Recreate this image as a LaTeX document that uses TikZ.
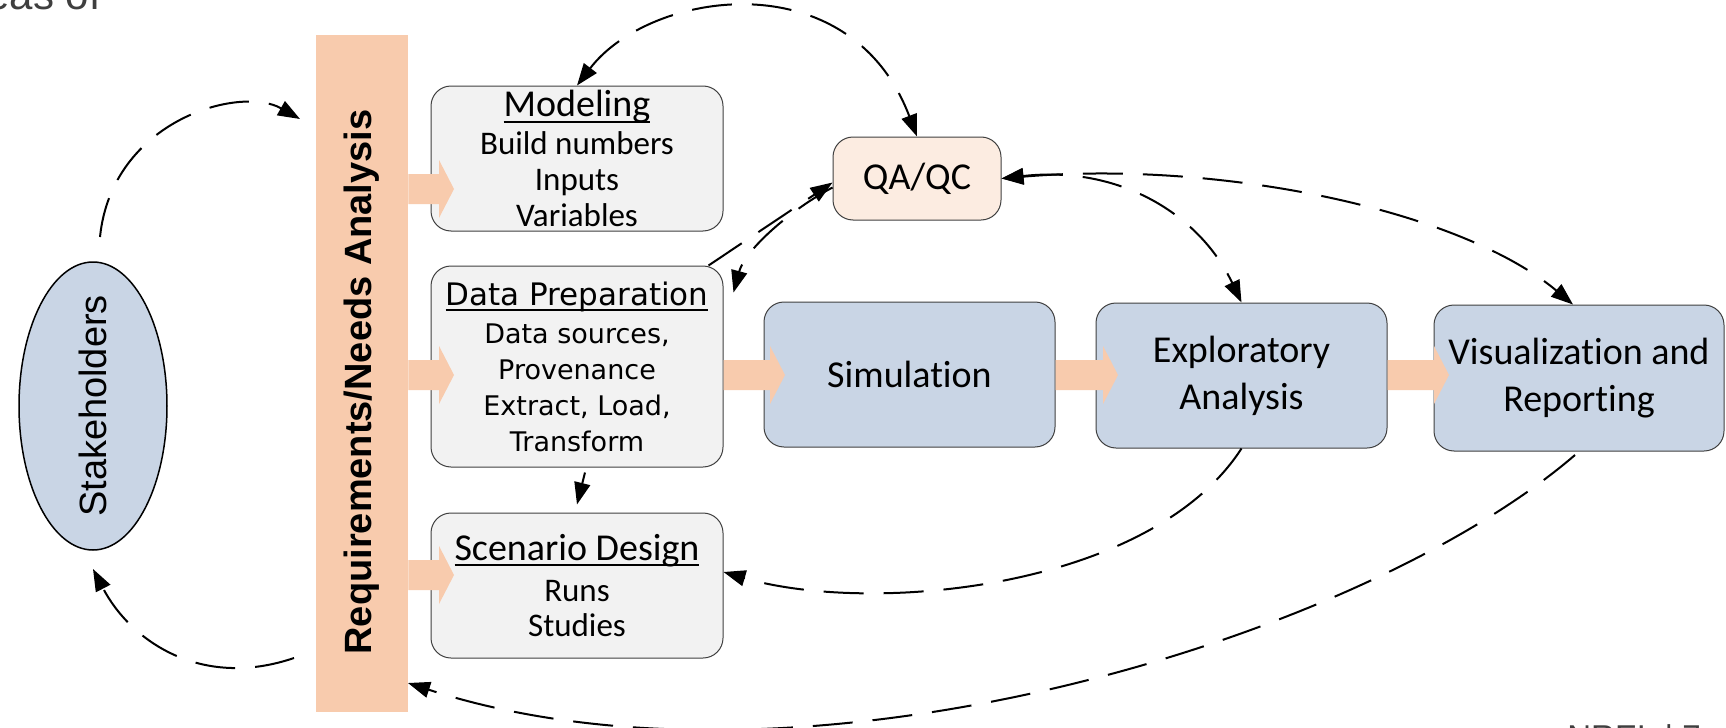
\documentclass[tikz,border=0pt]{standalone}
\usepackage{fontspec}
\usepackage{graphicx}
\usetikzlibrary{arrows.meta,shapes.geometric,calc}
\setmainfont{Carlito}[Ligatures=CommonOff]
\newfontfamily\arialf{Liberation Sans}
\newfontfamily\dejav{DejaVu Sans}
\definecolor{peach}{HTML}{F8CBAD}
\definecolor{bluebox}{HTML}{C9D5E5}
\definecolor{graybox}{HTML}{F2F2F2}
\definecolor{qafill}{HTML}{FCECE1}
\definecolor{edge}{HTML}{404040}
\definecolor{fraggray}{HTML}{3F3F3F}
\newcommand\ulin[1]{\setbox0\hbox{#1}\rlap{\rule[-3pt]{\wd0}{1pt}}\box0}
\newcommand\blockarrow[2]{%
  \fill[peach] let \p1=(#1), \p2=(#2) in
  (\x1,\y2+7.5pt) -- (\x2-7.5pt,\y2+7.5pt) -- (\x2-7.5pt,\y2+14.5pt) -- (\x2,\y2)
  -- (\x2-7.5pt,\y2-14.5pt) -- (\x2-7.5pt,\y2-7.5pt) -- (\x1,\y2-7.5pt) -- cycle;}
\tikzset{
  gbox/.style={draw=edge, line width=0.5pt, fill=graybox, rounded corners=10pt,
    inner sep=0pt, align=center, minimum width=146pt},
  bbox/.style={draw=edge, line width=0.5pt, fill=bluebox, rounded corners=10pt,
    inner sep=0pt, align=center, font=\fontsize{19}{23.5}\selectfont},
  dl/.style={line width=1pt, dash pattern=on 20pt off 10pt},
  >={Triangle[length=11pt,width=8pt]},
}
\begin{document}
\begin{tikzpicture}[x=0.5pt,y=-0.5pt]
\useasboundingbox (0,0) rectangle (1726,728);
\fill[white] (0,0) rectangle (1726,728);

% cropped slide fragments
\node[anchor=base west, text=fraggray, font=\arialf\fontsize{21}{25}\selectfont, inner sep=0pt] (frag1) at (-14,10) {eas of};
\node[anchor=base west, text=fraggray, font=\arialf\fontsize{16.5}{20}\selectfont, inner sep=0pt] (frag2) at (1567,748) {NREL | 7};

% main shapes
\node[ellipse, draw=black, line width=0.75pt, fill=bluebox, minimum width=74pt, minimum height=144pt, inner sep=0pt] (stake) at (93,406)
  {\rotatebox{90}{\makebox[0pt]{\arialf\fontsize{19}{23}\selectfont Stakeholders}}};
\node[fill=peach, minimum width=46pt, minimum height=338.5pt, inner sep=0pt] (req) at (362,373.5)
  {\rotatebox{90}{\arialf\bfseries\fontsize{19}{23}\selectfont Requirements/Needs Analysis\hspace{8.5pt}}};

\node[gbox, minimum height=72.5pt, font=\fontsize{16.5}{18}\selectfont] (mod) at (577,158.5)
  {{\fontsize{19}{18}\selectfont\ulin{Modeling}}\\[1pt] Build numbers\\ Inputs\\ Variables};
\node[gbox, minimum height=100.5pt, font=\dejav\fontsize{13.5}{18}\selectfont] (prep) at (577,366.5)
  {{\fontsize{15.5}{18}\selectfont\ulin{Data Preparation}}\\[1pt] Data sources,\\ Provenance\\ Extract, Load,\\ Transform};
\node[gbox, minimum height=72.5pt, font=\fontsize{16.5}{17.5}\selectfont] (scen) at (577,585.5)
  {{\fontsize{19}{18}\selectfont\ulin{Scenario Design}}\\[3pt] Runs\\ Studies};
\node[draw=edge, line width=0.5pt, fill=qafill, rounded corners=10pt, minimum width=84pt, minimum height=41.5pt,
  inner sep=0pt, font=\fontsize{19}{23}\selectfont] (qa) at (917,178.5) {QA/QC};
\node[bbox, minimum width=145.5pt, minimum height=72.5pt] (sim) at (909.5,374.5) {Simulation};
\node[bbox, minimum width=145.5pt, minimum height=72.5pt] (expl) at (1241.5,375.5) {Exploratory\\Analysis};
\node[bbox, minimum width=145pt, minimum height=73pt] (viz) at (1579,378) {Visualization and\\Reporting};

% block arrows
\coordinate (t1) at (454,189);
\coordinate (t2) at (454,375);
\coordinate (t3) at (454,575);
\coordinate (t4) at (785,375);
\coordinate (t5) at (1118,375);
\coordinate (t6) at (1449,375);
\blockarrow{req.east}{t1}
\blockarrow{req.east}{t2}
\blockarrow{req.east}{t3}
\blockarrow{prep.east}{t4}
\blockarrow{sim.east}{t5}
\blockarrow{expl.east}{t6}

% dashed connectors
\coordinate (p1s) at (100,237);
\coordinate (p1e) at (300,119);
\draw[dl,->] (p1s) .. controls (112,120) and (240,85) .. (p1e);
\coordinate (p2s) at (294,658);
\coordinate (p2e) at (93,569);
\draw[dl,->] (p2s) .. controls (200,690) and (130,640) .. (p2e);
\coordinate (p3s) at (1575,455);
\coordinate (p3e) at (408,683);
\draw[dl,->] (p3s) .. controls (1360,640) and (800,810) .. (p3e);
\draw[dl,->] (expl.south) .. controls (1150,590) and (870,615) .. ([yshift=6.75pt]scen.east);
\draw[dl,->] ([xshift=4pt,yshift=-2.5pt]prep.south) -- ([yshift=4pt]scen.north);
\draw[dl,<->] (mod.north) .. controls (650,-10) and (850,-40) .. (qa.north);
\draw[dl,->] ([xshift=-7.5pt]prep.north east) -- ([yshift=-2pt]qa.west);
\draw[dl,->] ([yshift=-4.5pt]qa.west) .. controls (790,210) and (745,250) .. ([xshift=5pt,yshift=-13.5pt]prep.north east);
\draw[dl,<->] (qa.east) .. controls (1120,165) and (1200,215) .. (expl.north);
\draw[dl,<->] (qa.east) .. controls (1220,160) and (1460,210) .. ([xshift=-3pt]viz.north);
\end{tikzpicture}
\end{document}
